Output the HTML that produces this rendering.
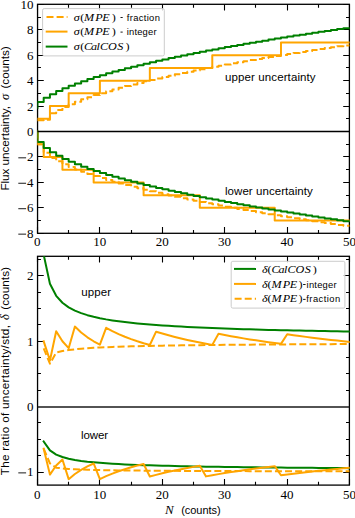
<!DOCTYPE html><html><head><meta charset="utf-8"><style>html,body{margin:0;padding:0;background:#fff;width:355px;height:518px;overflow:hidden}svg{display:block}text{font-family:"Liberation Sans",sans-serif}.s{font-family:"Liberation Serif",serif}</style></head><body><svg width="355" height="518" viewBox="0 0 355 518"><rect width="355" height="518" fill="#fff"/><defs><clipPath id="c1"><rect x="37.45" y="4.30" width="312.20" height="229.00"/></clipPath><clipPath id="c2"><rect x="37.45" y="256.30" width="312.20" height="228.80"/></clipPath></defs><path d="M37.55 233.50h6.20M349.40 233.50h-6.20M37.55 207.50h6.20M349.40 207.50h-6.20M37.55 182.50h6.20M349.40 182.50h-6.20M37.55 156.50h6.20M349.40 156.50h-6.20M37.55 131.50h6.20M349.40 131.50h-6.20M37.55 106.50h6.20M349.40 106.50h-6.20M37.55 80.50h6.20M349.40 80.50h-6.20M37.55 55.50h6.20M349.40 55.50h-6.20M37.55 29.50h6.20M349.40 29.50h-6.20M37.55 4.50h6.20M349.40 4.50h-6.20M37.55 220.50h3.40M349.40 220.50h-3.40M37.55 195.50h3.40M349.40 195.50h-3.40M37.55 169.50h3.40M349.40 169.50h-3.40M37.55 144.50h3.40M349.40 144.50h-3.40M37.55 118.50h3.40M349.40 118.50h-3.40M37.55 93.50h3.40M349.40 93.50h-3.40M37.55 67.50h3.40M349.40 67.50h-3.40M37.55 42.50h3.40M349.40 42.50h-3.40M37.55 17.50h3.40M349.40 17.50h-3.40M37.50 4.30v6.20M37.50 233.30v-6.20M99.50 4.30v6.20M99.50 233.30v-6.20M162.50 4.30v6.20M162.50 233.30v-6.20M224.50 4.30v6.20M224.50 233.30v-6.20M287.50 4.30v6.20M287.50 233.30v-6.20M349.50 4.30v6.20M349.50 233.30v-6.20M68.50 4.30v3.40M68.50 233.30v-3.40M131.50 4.30v3.40M131.50 233.30v-3.40M193.50 4.30v3.40M193.50 233.30v-3.40M255.50 4.30v3.40M255.50 233.30v-3.40M318.50 4.30v3.40M318.50 233.30v-3.40M37.55 472.50h6.20M349.40 472.50h-6.20M37.55 341.50h6.20M349.40 341.50h-6.20M37.55 275.50h6.20M349.40 275.50h-6.20M37.55 455.50h3.40M349.40 455.50h-3.40M37.55 439.50h3.40M349.40 439.50h-3.40M37.55 422.50h3.40M349.40 422.50h-3.40M37.55 390.50h3.40M349.40 390.50h-3.40M37.55 373.50h3.40M349.40 373.50h-3.40M37.55 357.50h3.40M349.40 357.50h-3.40M37.55 324.50h3.40M349.40 324.50h-3.40M37.55 308.50h3.40M349.40 308.50h-3.40M37.55 292.50h3.40M349.40 292.50h-3.40M37.55 259.50h3.40M349.40 259.50h-3.40M37.50 256.30v6.20M37.50 485.10v-6.20M99.50 256.30v6.20M99.50 485.10v-6.20M162.50 256.30v6.20M162.50 485.10v-6.20M224.50 256.30v6.20M224.50 485.10v-6.20M287.50 256.30v6.20M287.50 485.10v-6.20M349.50 256.30v6.20M349.50 485.10v-6.20M68.50 256.30v3.40M68.50 485.10v-3.40M131.50 256.30v3.40M131.50 485.10v-3.40M193.50 256.30v3.40M193.50 485.10v-3.40M255.50 256.30v3.40M255.50 485.10v-3.40M318.50 256.30v3.40M318.50 485.10v-3.40" stroke="#000" stroke-width="1.10" fill="none"/><rect x="37.55" y="4.30" width="311.85" height="229.00" fill="none" stroke="#000" stroke-width="1.30"/><rect x="37.55" y="256.30" width="311.85" height="228.80" fill="none" stroke="#000" stroke-width="1.30"/><g clip-path="url(#c1)" fill="none" stroke-width="2.00" stroke-linejoin="round" stroke-linecap="square"><polyline points="37.45,120.07 37.45,120.20 43.69,120.20 43.69,119.69 49.94,119.69 49.94,113.30 56.18,113.30 56.18,109.89 62.43,109.89 62.43,106.89 68.67,106.89 68.67,104.18 74.91,104.18 74.91,101.68 81.16,101.68 81.16,99.36 87.40,99.36 87.40,97.17 93.65,97.17 93.65,95.11 99.89,95.11 99.89,93.14 106.13,93.14 106.13,91.27 112.38,91.27 112.38,89.47 118.62,89.47 118.62,87.74 124.87,87.74 124.87,86.07 131.11,86.07 131.11,84.45 137.35,84.45 137.35,82.88 143.60,82.88 143.60,81.36 149.84,81.36 149.84,79.88 156.09,79.88 156.09,78.44 162.33,78.44 162.33,77.04 168.57,77.04 168.57,75.67 174.82,75.67 174.82,74.33 181.06,74.33 181.06,73.01 187.31,73.01 187.31,71.73 193.55,71.73 193.55,70.47 199.79,70.47 199.79,69.23 206.04,69.23 206.04,68.02 212.28,68.02 212.28,66.83 218.53,66.83 218.53,65.66 224.77,65.66 224.77,64.50 231.01,64.50 231.01,63.37 237.26,63.37 237.26,62.26 243.50,62.26 243.50,61.16 249.75,61.16 249.75,60.07 255.99,60.07 255.99,59.01 262.23,59.01 262.23,57.95 268.48,57.95 268.48,56.91 274.72,56.91 274.72,55.89 280.97,55.89 280.97,54.88 287.21,54.88 287.21,53.88 293.45,53.88 293.45,52.89 299.70,52.89 299.70,51.91 305.94,51.91 305.94,50.95 312.19,50.95 312.19,50.00 318.43,50.00 318.43,49.05 324.67,49.05 324.67,48.12 330.92,48.12 330.92,47.20 337.16,47.20 337.16,46.28 343.41,46.28 343.41,45.38 349.65,45.38" stroke="#ffa500" stroke-dasharray="7.0 3.1" stroke-linecap="butt"/><polyline points="37.45,131.52 37.45,144.24 43.69,144.24 43.69,152.77 49.94,152.77 49.94,157.88 56.18,157.88 56.18,161.29 62.43,161.29 62.43,164.30 68.67,164.30 68.67,167.01 74.91,167.01 74.91,169.51 81.16,169.51 81.16,171.83 87.40,171.83 87.40,174.01 93.65,174.01 93.65,176.08 99.89,176.08 99.89,178.04 106.13,178.04 106.13,179.92 112.38,179.92 112.38,181.72 118.62,181.72 118.62,183.45 124.87,183.45 124.87,185.12 131.11,185.12 131.11,186.74 137.35,186.74 137.35,188.30 143.60,188.30 143.60,189.82 149.84,189.82 149.84,191.30 156.09,191.30 156.09,192.74 162.33,192.74 162.33,194.15 168.57,194.15 168.57,195.52 174.82,195.52 174.82,196.86 181.06,196.86 181.06,198.17 187.31,198.17 187.31,199.46 193.55,199.46 193.55,200.72 199.79,200.72 199.79,201.95 206.04,201.95 206.04,203.17 212.28,203.17 212.28,204.36 218.53,204.36 218.53,205.53 224.77,205.53 224.77,206.68 231.01,206.68 231.01,207.82 237.26,207.82 237.26,208.93 243.50,208.93 243.50,210.03 249.75,210.03 249.75,211.11 255.99,211.11 255.99,212.18 262.23,212.18 262.23,213.23 268.48,213.23 268.48,214.27 274.72,214.27 274.72,215.30 280.97,215.30 280.97,216.31 287.21,216.31 287.21,217.31 293.45,217.31 293.45,218.30 299.70,218.30 299.70,219.27 305.94,219.27 305.94,220.24 312.19,220.24 312.19,221.19 318.43,221.19 318.43,222.13 324.67,222.13 324.67,223.07 330.92,223.07 330.92,223.99 337.16,223.99 337.16,224.90 343.41,224.90 343.41,225.81 349.65,225.81" stroke="#ffa500" stroke-dasharray="7.0 3.1" stroke-linecap="butt"/><polyline points="37.45,118.80 37.45,118.80 43.69,118.80 43.69,118.80 49.94,118.80 49.94,106.08 56.18,106.08 56.18,106.08 62.43,106.08 62.43,106.08 68.67,106.08 68.67,93.36 74.91,93.36 74.91,93.36 81.16,93.36 81.16,93.36 87.40,93.36 87.40,93.36 93.65,93.36 93.65,93.36 99.89,93.36 99.89,80.63 106.13,80.63 106.13,80.63 112.38,80.63 112.38,80.63 118.62,80.63 118.62,80.63 124.87,80.63 124.87,80.63 131.11,80.63 131.11,80.63 137.35,80.63 137.35,80.63 143.60,80.63 143.60,80.63 149.84,80.63 149.84,67.91 156.09,67.91 156.09,67.91 162.33,67.91 162.33,67.91 168.57,67.91 168.57,67.91 174.82,67.91 174.82,67.91 181.06,67.91 181.06,67.91 187.31,67.91 187.31,67.91 193.55,67.91 193.55,67.91 199.79,67.91 199.79,67.91 206.04,67.91 206.04,67.91 212.28,67.91 212.28,55.19 218.53,55.19 218.53,55.19 224.77,55.19 224.77,55.19 231.01,55.19 231.01,55.19 237.26,55.19 237.26,55.19 243.50,55.19 243.50,55.19 249.75,55.19 249.75,55.19 255.99,55.19 255.99,55.19 262.23,55.19 262.23,55.19 268.48,55.19 268.48,55.19 274.72,55.19 274.72,55.19 280.97,55.19 280.97,42.47 287.21,42.47 287.21,42.47 293.45,42.47 293.45,42.47 299.70,42.47 299.70,42.47 305.94,42.47 305.94,42.47 312.19,42.47 312.19,42.47 318.43,42.47 318.43,42.47 324.67,42.47 324.67,42.47 330.92,42.47 330.92,42.47 337.16,42.47 337.16,42.47 343.41,42.47 343.41,42.47 349.65,42.47" stroke="#ffa500"/><polyline points="37.45,131.52 37.45,144.24 43.69,144.24 43.69,156.97 49.94,156.97 49.94,156.97 56.18,156.97 56.18,156.97 62.43,156.97 62.43,169.69 68.67,169.69 68.67,169.69 74.91,169.69 74.91,169.69 81.16,169.69 81.16,169.69 87.40,169.69 87.40,169.69 93.65,169.69 93.65,182.41 99.89,182.41 99.89,182.41 106.13,182.41 106.13,182.41 112.38,182.41 112.38,182.41 118.62,182.41 118.62,182.41 124.87,182.41 124.87,182.41 131.11,182.41 131.11,182.41 137.35,182.41 137.35,182.41 143.60,182.41 143.60,195.13 149.84,195.13 149.84,195.13 156.09,195.13 156.09,195.13 162.33,195.13 162.33,195.13 168.57,195.13 168.57,195.13 174.82,195.13 174.82,195.13 181.06,195.13 181.06,195.13 187.31,195.13 187.31,195.13 193.55,195.13 193.55,195.13 199.79,195.13 199.79,207.86 206.04,207.86 206.04,207.86 212.28,207.86 212.28,207.86 218.53,207.86 218.53,207.86 224.77,207.86 224.77,207.86 231.01,207.86 231.01,207.86 237.26,207.86 237.26,207.86 243.50,207.86 243.50,207.86 249.75,207.86 249.75,207.86 255.99,207.86 255.99,207.86 262.23,207.86 262.23,207.86 268.48,207.86 268.48,207.86 274.72,207.86 274.72,220.58 280.97,220.58 280.97,220.58 287.21,220.58 287.21,220.58 293.45,220.58 293.45,220.58 299.70,220.58 299.70,220.58 305.94,220.58 305.94,220.58 312.19,220.58 312.19,220.58 318.43,220.58 318.43,220.58 324.67,220.58 324.67,220.58 330.92,220.58 330.92,220.58 337.16,220.58 337.16,220.58 343.41,220.58 343.41,220.58 349.65,220.58" stroke="#ffa500"/><polyline points="37.45,107.78 37.45,101.97 43.69,101.97 43.69,97.70 49.94,97.70 49.94,94.16 56.18,94.16 56.18,91.07 62.43,91.07 62.43,88.29 68.67,88.29 68.67,85.75 74.91,85.75 74.91,83.38 81.16,83.38 81.16,81.17 87.40,81.17 87.40,79.07 93.65,79.07 93.65,77.09 99.89,77.09 99.89,75.19 106.13,75.19 106.13,73.37 112.38,73.37 112.38,71.62 118.62,71.62 118.62,69.94 124.87,69.94 124.87,68.31 131.11,68.31 131.11,66.73 137.35,66.73 137.35,65.20 143.60,65.20 143.60,63.71 149.84,63.71 149.84,62.26 156.09,62.26 156.09,60.85 162.33,60.85 162.33,59.47 168.57,59.47 168.57,58.12 174.82,58.12 174.82,56.80 181.06,56.80 181.06,55.51 187.31,55.51 187.31,54.24 193.55,54.24 193.55,53.00 199.79,53.00 199.79,51.78 206.04,51.78 206.04,50.58 212.28,50.58 212.28,49.41 218.53,49.41 218.53,48.25 224.77,48.25 224.77,47.11 231.01,47.11 231.01,45.99 237.26,45.99 237.26,44.89 243.50,44.89 243.50,43.80 249.75,43.80 249.75,42.73 255.99,42.73 255.99,41.68 262.23,41.68 262.23,40.63 268.48,40.63 268.48,39.60 274.72,39.60 274.72,38.59 280.97,38.59 280.97,37.59 287.21,37.59 287.21,36.60 293.45,36.60 293.45,35.62 299.70,35.62 299.70,34.65 305.94,34.65 305.94,33.69 312.19,33.69 312.19,32.75 318.43,32.75 318.43,31.81 324.67,31.81 324.67,30.89 330.92,30.89 330.92,29.97 337.16,29.97 337.16,29.07 343.41,29.07 343.41,28.17 349.65,28.17" stroke="#008000"/><polyline points="37.45,131.52 37.45,142.06 43.69,142.06 43.69,147.91 49.94,147.91 49.94,152.23 56.18,152.23 56.18,155.81 62.43,155.81 62.43,158.93 68.67,158.93 68.67,161.73 74.91,161.73 74.91,164.30 81.16,164.30 81.16,166.68 87.40,166.68 87.40,168.91 93.65,168.91 93.65,171.01 99.89,171.01 99.89,173.01 106.13,173.01 106.13,174.92 112.38,174.92 112.38,176.74 118.62,176.74 118.62,178.50 124.87,178.50 124.87,180.19 131.11,180.19 131.11,181.82 137.35,181.82 137.35,183.41 143.60,183.41 143.60,184.94 149.84,184.94 149.84,186.44 156.09,186.44 156.09,187.89 162.33,187.89 162.33,189.31 168.57,189.31 168.57,190.69 174.82,190.69 174.82,192.05 181.06,192.05 181.06,193.37 187.31,193.37 187.31,194.66 193.55,194.66 193.55,195.93 199.79,195.93 199.79,197.18 206.04,197.18 206.04,198.40 212.28,198.40 212.28,199.60 218.53,199.60 218.53,200.78 224.77,200.78 224.77,201.93 231.01,201.93 231.01,203.07 237.26,203.07 237.26,204.20 243.50,204.20 243.50,205.30 249.75,205.30 249.75,206.39 255.99,206.39 255.99,207.46 262.23,207.46 262.23,208.52 268.48,208.52 268.48,209.57 274.72,209.57 274.72,210.60 280.97,210.60 280.97,211.61 287.21,211.61 287.21,212.62 293.45,212.62 293.45,213.61 299.70,213.61 299.70,214.59 305.94,214.59 305.94,215.56 312.19,215.56 312.19,216.51 318.43,216.51 318.43,217.46 324.67,217.46 324.67,218.40 330.92,218.40 330.92,219.32 337.16,219.32 337.16,220.24 343.41,220.24 343.41,221.15 349.65,221.15" stroke="#008000"/></g><line x1="37.55" x2="349.40" y1="131.52" y2="131.52" stroke="#000" stroke-width="1.7"/><g clip-path="url(#c2)" fill="none" stroke-width="2.00" stroke-linejoin="round" stroke-linecap="square"><polyline points="43.69,254.80 49.94,283.77 56.18,295.82 62.43,302.73 68.67,307.32 74.91,310.63 81.16,313.16 87.40,315.17 93.65,316.82 99.89,318.20 106.13,319.38 112.38,320.40 118.62,321.29 124.87,322.08 131.11,322.79 137.35,323.43 143.60,324.00 149.84,324.53 156.09,325.01 162.33,325.45 168.57,325.86 174.82,326.24 181.06,326.59 187.31,326.93 193.55,327.24 199.79,327.53 206.04,327.80 212.28,328.06 218.53,328.30 224.77,328.54 231.01,328.76 237.26,328.97 243.50,329.16 249.75,329.35 255.99,329.54 262.23,329.71 268.48,329.88 274.72,330.04 280.97,330.19 287.21,330.34 293.45,330.48 299.70,330.61 305.94,330.75 312.19,330.87 318.43,331.00 324.67,331.11 330.92,331.23 337.16,331.34 343.41,331.45 349.65,331.55" stroke="#008000"/><polyline points="43.69,441.49 49.94,450.43 56.18,454.57 62.43,457.05 68.67,458.73 74.91,459.97 81.16,460.93 87.40,461.70 93.65,462.33 99.89,462.87 106.13,463.32 112.38,463.72 118.62,464.07 124.87,464.38 131.11,464.65 137.35,464.90 143.60,465.13 149.84,465.34 156.09,465.53 162.33,465.70 168.57,465.87 174.82,466.02 181.06,466.16 187.31,466.29 193.55,466.41 199.79,466.53 206.04,466.64 212.28,466.74 218.53,466.84 224.77,466.93 231.01,467.02 237.26,467.10 243.50,467.18 249.75,467.25 255.99,467.33 262.23,467.40 268.48,467.46 274.72,467.53 280.97,467.59 287.21,467.65 293.45,467.70 299.70,467.76 305.94,467.81 312.19,467.86 318.43,467.91 324.67,467.96 330.92,468.00 337.16,468.05 343.41,468.09 349.65,468.13" stroke="#008000"/><polyline points="43.69,341.28 49.94,360.43 56.18,331.17 62.43,341.28 68.67,348.18 74.91,326.59 81.16,332.53 87.40,337.32 93.65,341.28 99.89,344.64 106.13,327.81 112.38,331.17 118.62,334.13 124.87,336.77 131.11,339.14 137.35,341.28 143.60,343.23 149.84,345.02 156.09,331.67 162.33,333.57 168.57,335.33 174.82,336.97 181.06,338.50 187.31,339.93 193.55,341.28 199.79,342.55 206.04,343.75 212.28,344.88 218.53,333.82 224.77,335.04 231.01,336.21 237.26,337.32 243.50,338.38 249.75,339.39 255.99,340.36 262.23,341.28 268.48,342.17 274.72,343.03 280.97,343.85 287.21,334.30 293.45,335.19 299.70,336.05 305.94,336.87 312.19,337.67 318.43,338.44 324.67,339.18 330.92,339.91 337.16,340.61 343.41,341.28 349.65,341.94" stroke="#ffa500"/><polyline points="43.69,448.69 49.94,474.64 56.18,465.53 62.43,459.45 68.67,479.17 74.91,474.01 81.16,469.85 87.40,466.41 93.65,463.49 99.89,479.09 106.13,476.16 112.38,473.57 118.62,471.26 124.87,469.19 131.11,467.30 137.35,465.58 143.60,464.01 149.84,476.53 156.09,474.85 162.33,473.29 168.57,471.83 174.82,470.47 181.06,469.19 187.31,467.99 193.55,466.86 199.79,465.78 206.04,476.39 212.28,475.24 218.53,474.14 224.77,473.09 231.01,472.09 237.26,471.14 243.50,470.23 249.75,469.35 255.99,468.51 262.23,467.71 268.48,466.94 274.72,466.19 280.97,475.28 287.21,474.47 293.45,473.70 299.70,472.94 305.94,472.22 312.19,471.52 318.43,470.84 324.67,470.18 330.92,469.54 337.16,468.92 343.41,468.32 349.65,467.74" stroke="#ffa500"/><polyline points="43.69,348.47 49.94,363.67 56.18,352.61 62.43,351.09 68.67,350.05 74.91,349.29 81.16,348.70 87.40,348.22 93.65,347.82 99.89,347.48 106.13,347.20 112.38,346.94 118.62,346.72 124.87,346.52 131.11,346.35 137.35,346.19 143.60,346.04 149.84,345.91 156.09,345.78 162.33,345.67 168.57,345.56 174.82,345.46 181.06,345.37 187.31,345.29 193.55,345.21 199.79,345.13 206.04,345.06 212.28,344.99 218.53,344.92 224.77,344.86 231.01,344.81 237.26,344.75 243.50,344.70 249.75,344.65 255.99,344.60 262.23,344.55 268.48,344.51 274.72,344.46 280.97,344.42 287.21,344.38 293.45,344.35 299.70,344.31 305.94,344.27 312.19,344.24 318.43,344.21 324.67,344.17 330.92,344.14 337.16,344.11 343.41,344.08 349.65,344.06" stroke="#ffa500" stroke-dasharray="7.0 3.1" stroke-linecap="butt"/><polyline points="43.69,448.69 49.94,463.42 56.18,467.65 62.43,468.42 68.67,468.93 74.91,469.28 81.16,469.55 87.40,469.76 93.65,469.94 99.89,470.08 106.13,470.20 112.38,470.30 118.62,470.39 124.87,470.46 131.11,470.53 137.35,470.59 143.60,470.65 149.84,470.70 156.09,470.74 162.33,470.78 168.57,470.82 174.82,470.86 181.06,470.89 187.31,470.92 193.55,470.95 199.79,470.98 206.04,471.00 212.28,471.02 218.53,471.05 224.77,471.07 231.01,471.09 237.26,471.10 243.50,471.12 249.75,471.14 255.99,471.15 262.23,471.17 268.48,471.18 274.72,471.20 280.97,471.21 287.21,471.22 293.45,471.24 299.70,471.25 305.94,471.26 312.19,471.27 318.43,471.28 324.67,471.29 330.92,471.30 337.16,471.31 343.41,471.32 349.65,471.33" stroke="#ffa500" stroke-dasharray="7.0 3.1" stroke-linecap="butt"/></g><line x1="37.55" x2="349.40" y1="407.0" y2="407.0" stroke="#1a1a1a" stroke-width="1.5"/><text class="s" x="33.6" y="237.75" font-size="13.0" text-anchor="end">8</text><line x1="18.3" x2="26.1" y1="234.15" y2="234.15" stroke="#000" stroke-width="0.9"/><text class="s" x="33.6" y="212.31" font-size="13.0" text-anchor="end">6</text><line x1="18.3" x2="26.1" y1="208.71" y2="208.71" stroke="#000" stroke-width="0.9"/><text class="s" x="33.6" y="186.86" font-size="13.0" text-anchor="end">4</text><line x1="18.3" x2="26.1" y1="183.26" y2="183.26" stroke="#000" stroke-width="0.9"/><text class="s" x="33.6" y="161.42" font-size="13.0" text-anchor="end">2</text><line x1="18.3" x2="26.1" y1="157.82" y2="157.82" stroke="#000" stroke-width="0.9"/><text class="s" x="33.6" y="135.97" font-size="13.0" text-anchor="end">0</text><text class="s" x="33.6" y="110.53" font-size="13.0" text-anchor="end">2</text><text class="s" x="33.6" y="85.08" font-size="13.0" text-anchor="end">4</text><text class="s" x="33.6" y="59.64" font-size="13.0" text-anchor="end">6</text><text class="s" x="33.6" y="34.19" font-size="13.0" text-anchor="end">8</text><text class="s" x="33.6" y="8.75" font-size="13.0" text-anchor="end">10</text><text class="s" x="33.6" y="476.48" font-size="13.0" text-anchor="end">1</text><line x1="18.3" x2="26.1" y1="472.88" y2="472.88" stroke="#000" stroke-width="0.9"/><text class="s" x="33.6" y="411.10" font-size="13.0" text-anchor="end">0</text><text class="s" x="33.6" y="345.73" font-size="13.0" text-anchor="end">1</text><text class="s" x="33.6" y="280.36" font-size="13.0" text-anchor="end">2</text><text class="s" x="37.25" y="246.40" font-size="13.0" text-anchor="middle">0</text><text class="s" x="37.25" y="498.90" font-size="13.0" text-anchor="middle">0</text><text class="s" x="99.69" y="246.40" font-size="13.0" text-anchor="middle">10</text><text class="s" x="99.69" y="498.90" font-size="13.0" text-anchor="middle">10</text><text class="s" x="162.13" y="246.40" font-size="13.0" text-anchor="middle">20</text><text class="s" x="162.13" y="498.90" font-size="13.0" text-anchor="middle">20</text><text class="s" x="224.57" y="246.40" font-size="13.0" text-anchor="middle">30</text><text class="s" x="224.57" y="498.90" font-size="13.0" text-anchor="middle">30</text><text class="s" x="287.01" y="246.40" font-size="13.0" text-anchor="middle">40</text><text class="s" x="287.01" y="498.90" font-size="13.0" text-anchor="middle">40</text><text class="s" x="349.45" y="246.40" font-size="13.0" text-anchor="middle">50</text><text class="s" x="349.45" y="498.90" font-size="13.0" text-anchor="middle">50</text><text x="0" y="0" font-size="11.7" textLength="84.5" lengthAdjust="spacing" transform="translate(9.40,190.60) rotate(-90)">Flux uncertainty,</text><text class="s" font-style="italic" x="0" y="0" font-size="12.5" transform="translate(9.40,99.90) rotate(-90)">σ</text><text x="0" y="0" font-size="11.7" textLength="42.3" lengthAdjust="spacing" transform="translate(9.40,88.60) rotate(-90)">(counts)</text><text x="0" y="0" font-size="11.7" textLength="150.2" lengthAdjust="spacing" transform="translate(9.40,475.30) rotate(-90)">The ratio of uncertainty/std,</text><text class="s" font-style="italic" x="0" y="0" font-size="12.5" transform="translate(9.40,320.10) rotate(-90)">δ</text><text x="0" y="0" font-size="11.7" textLength="42.8" lengthAdjust="spacing" transform="translate(9.40,309.80) rotate(-90)">(counts)</text><text x="165.0" y="514.4" font-size="13" class="s" font-style="italic">N</text><text x="181.2" y="514.4" font-size="11" textLength="39.4" lengthAdjust="spacing">(counts)</text><text x="225.00" y="80.50" font-size="11.5" textLength="90.6" lengthAdjust="spacing">upper uncertainty</text><text x="225.00" y="194.60" font-size="11.5" textLength="87.8" lengthAdjust="spacing">lower uncertainty</text><text x="81.20" y="295.80" font-size="11.5" textLength="29.8" lengthAdjust="spacing">upper</text><text x="81.00" y="439.20" font-size="11.5" textLength="27.0" lengthAdjust="spacing">lower</text><rect x="42.60" y="8.60" width="121.70" height="47.30" rx="1.6" fill="#fff" fill-opacity="0.8" stroke="#cccccc" stroke-width="1"/><line x1="46.50" x2="67.50" y1="17.00" y2="17.00" stroke="#ffa500" stroke-width="2.00" stroke-dasharray="7.0 3.1"/><line x1="46.70" x2="66.50" y1="31.60" y2="31.60" stroke="#ffa500" stroke-width="2.00" stroke-linecap="square"/><line x1="46.70" x2="66.50" y1="46.60" y2="46.60" stroke="#008000" stroke-width="2.00" stroke-linecap="square"/><text class="s" font-style="italic" font-size="10.3" transform="translate(73.70,20.60) scale(1.18,1)">σ</text><text class="s" font-size="10.3" transform="translate(80.30,20.60) scale(1.18,1)">(</text><text class="s" font-style="italic" font-size="10.3" transform="translate(83.90,20.60) scale(1.18,1)">M</text><text class="s" font-style="italic" font-size="10.3" transform="translate(95.30,20.60) scale(1.18,1)">P</text><text class="s" font-style="italic" font-size="10.3" transform="translate(102.30,20.60) scale(1.18,1)">E</text><text class="s" font-size="10.3" transform="translate(111.70,20.60) scale(1.18,1)">)</text><line x1="120.5" x2="122.7" y1="17.50" y2="17.50" stroke="#000" stroke-width="0.9"/><text x="126.70" y="20.60" font-size="9.4" textLength="33.2" lengthAdjust="spacing">fraction</text><text class="s" font-style="italic" font-size="10.3" transform="translate(73.70,35.20) scale(1.18,1)">σ</text><text class="s" font-size="10.3" transform="translate(80.30,35.20) scale(1.18,1)">(</text><text class="s" font-style="italic" font-size="10.3" transform="translate(83.90,35.20) scale(1.18,1)">M</text><text class="s" font-style="italic" font-size="10.3" transform="translate(95.30,35.20) scale(1.18,1)">P</text><text class="s" font-style="italic" font-size="10.3" transform="translate(102.30,35.20) scale(1.18,1)">E</text><text class="s" font-size="10.3" transform="translate(111.70,35.20) scale(1.18,1)">)</text><line x1="120.5" x2="122.7" y1="32.10" y2="32.10" stroke="#000" stroke-width="0.9"/><text x="126.70" y="35.20" font-size="9.4" textLength="29.8" lengthAdjust="spacing">integer</text><text class="s" font-style="italic" font-size="10.3" transform="translate(73.70,50.20) scale(1.18,1)">σ</text><text class="s" font-size="10.3" transform="translate(80.30,50.20) scale(1.18,1)">(</text><text class="s" font-style="italic" font-size="10.3" transform="translate(83.90,50.20) scale(1.18,1)">C</text><text class="s" font-style="italic" font-size="10.3" transform="translate(91.10,50.20) scale(1.18,1)">a</text><text class="s" font-style="italic" font-size="10.3" transform="translate(96.60,50.20) scale(1.18,1)">l</text><text class="s" font-style="italic" font-size="10.3" transform="translate(100.10,50.20) scale(1.18,1)">C</text><text class="s" font-style="italic" font-size="10.3" transform="translate(107.90,50.20) scale(1.18,1)">O</text><text class="s" font-style="italic" font-size="10.3" transform="translate(117.20,50.20) scale(1.18,1)">S</text><text class="s" font-size="10.3" transform="translate(125.60,50.20) scale(1.18,1)">)</text><rect x="231.20" y="261.30" width="113.70" height="46.80" rx="1.6" fill="#fff" fill-opacity="0.8" stroke="#cccccc" stroke-width="1"/><line x1="235.00" x2="255.00" y1="268.90" y2="268.90" stroke="#008000" stroke-width="2.00" stroke-linecap="square"/><line x1="235.00" x2="255.00" y1="283.90" y2="283.90" stroke="#ffa500" stroke-width="2.00" stroke-linecap="square"/><line x1="234.60" x2="256.00" y1="298.80" y2="298.80" stroke="#ffa500" stroke-width="2.00" stroke-dasharray="7.0 3.1"/><text class="s" font-style="italic" font-size="10.3" transform="translate(262.00,272.50) scale(1.18,1)">δ</text><text class="s" font-size="10.3" transform="translate(267.60,272.50) scale(1.18,1)">(</text><text class="s" font-style="italic" font-size="10.3" transform="translate(271.40,272.50) scale(1.18,1)">C</text><text class="s" font-style="italic" font-size="10.3" transform="translate(278.60,272.50) scale(1.18,1)">a</text><text class="s" font-style="italic" font-size="10.3" transform="translate(284.10,272.50) scale(1.18,1)">l</text><text class="s" font-style="italic" font-size="10.3" transform="translate(287.60,272.50) scale(1.18,1)">C</text><text class="s" font-style="italic" font-size="10.3" transform="translate(295.40,272.50) scale(1.18,1)">O</text><text class="s" font-style="italic" font-size="10.3" transform="translate(304.70,272.50) scale(1.18,1)">S</text><text class="s" font-size="10.3" transform="translate(312.80,272.50) scale(1.18,1)">)</text><text class="s" font-style="italic" font-size="10.3" transform="translate(262.00,287.50) scale(1.18,1)">δ</text><text class="s" font-size="10.3" transform="translate(267.60,287.50) scale(1.18,1)">(</text><text class="s" font-style="italic" font-size="10.3" transform="translate(271.40,287.50) scale(1.18,1)">M</text><text class="s" font-style="italic" font-size="10.3" transform="translate(282.80,287.50) scale(1.18,1)">P</text><text class="s" font-style="italic" font-size="10.3" transform="translate(289.80,287.50) scale(1.18,1)">E</text><text class="s" font-size="10.3" transform="translate(298.40,287.50) scale(1.18,1)">)</text><line x1="303.1" x2="305.6" y1="284.50" y2="284.50" stroke="#000" stroke-width="0.9"/><text x="306.60" y="287.50" font-size="9.4" textLength="30.0" lengthAdjust="spacing">integer</text><text class="s" font-style="italic" font-size="10.3" transform="translate(262.00,302.40) scale(1.18,1)">δ</text><text class="s" font-size="10.3" transform="translate(267.60,302.40) scale(1.18,1)">(</text><text class="s" font-style="italic" font-size="10.3" transform="translate(271.40,302.40) scale(1.18,1)">M</text><text class="s" font-style="italic" font-size="10.3" transform="translate(282.80,302.40) scale(1.18,1)">P</text><text class="s" font-style="italic" font-size="10.3" transform="translate(289.80,302.40) scale(1.18,1)">E</text><text class="s" font-size="10.3" transform="translate(298.40,302.40) scale(1.18,1)">)</text><line x1="303.1" x2="305.6" y1="299.40" y2="299.40" stroke="#000" stroke-width="0.9"/><text x="306.30" y="302.40" font-size="9.4" textLength="33.8" lengthAdjust="spacing">fraction</text></svg></body></html>
